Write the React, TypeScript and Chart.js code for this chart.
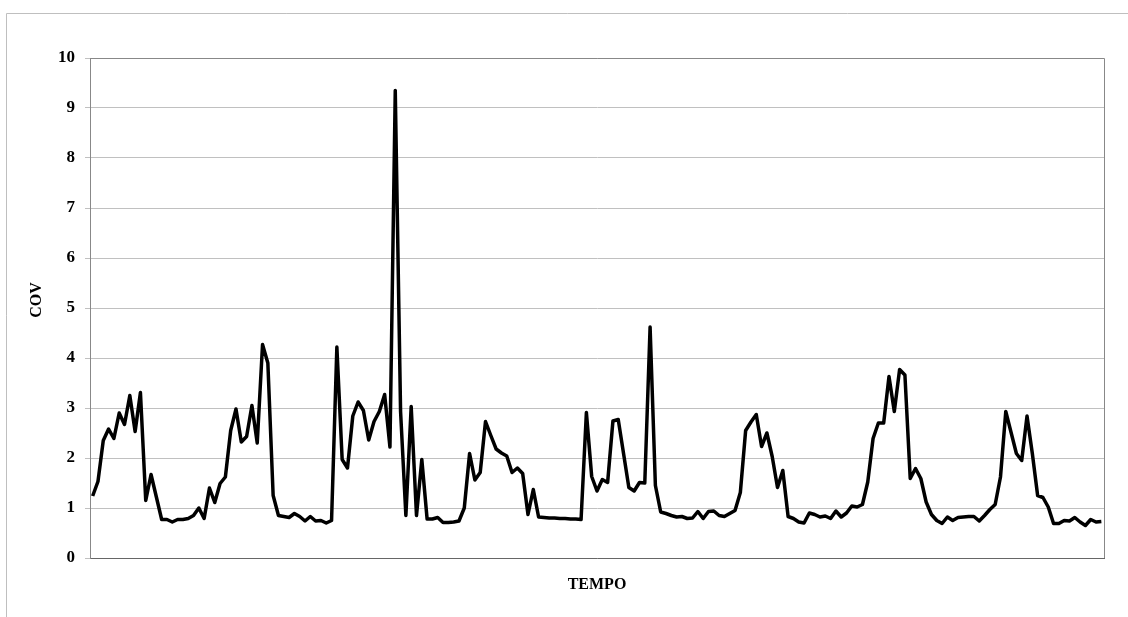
import React, { useEffect, useRef } from "react";
import { Chart, registerables } from "chart.js";

Chart.register(...registerables);

const covValues: number[] = [
  1.24, 1.53, 2.35, 2.58, 2.39, 2.9, 2.67, 3.25, 2.53, 3.31,
  1.15, 1.67, 1.22, 0.77, 0.77, 0.72, 0.77, 0.77, 0.79, 0.85,
  1.0, 0.79, 1.4, 1.11, 1.49, 1.62, 2.55, 2.98, 2.32, 2.43,
  3.05, 2.3, 4.27, 3.9, 1.25, 0.85, 0.83, 0.81, 0.89, 0.83,
  0.74, 0.83, 0.74, 0.75, 0.7, 0.75, 4.22, 1.97, 1.8, 2.84,
  3.12, 2.95, 2.36, 2.73, 2.93, 3.27, 2.22, 9.35, 2.93, 0.85,
  3.03, 0.85, 1.97, 0.78, 0.78, 0.81, 0.71, 0.71, 0.72, 0.74,
  1.0, 2.09, 1.56, 1.71, 2.73, 2.45, 2.18, 2.1, 2.04, 1.71,
  1.8, 1.69, 0.87, 1.37, 0.82, 0.81, 0.8, 0.8, 0.79, 0.79,
  0.78, 0.78, 0.77, 2.91, 1.63, 1.34, 1.57, 1.51, 2.74, 2.77,
  2.09, 1.41, 1.34, 1.51, 1.5, 4.62, 1.45, 0.92, 0.89, 0.85,
  0.82, 0.83, 0.79, 0.8, 0.93, 0.79, 0.93, 0.94, 0.85, 0.83,
  0.89, 0.95, 1.31, 2.55, 2.72, 2.87, 2.23, 2.5, 2.03, 1.41,
  1.75, 0.83, 0.79, 0.72, 0.7, 0.9, 0.87, 0.82, 0.84, 0.79,
  0.94, 0.82, 0.9, 1.04, 1.02, 1.07, 1.52, 2.39, 2.7, 2.7,
  3.63, 2.93, 3.77, 3.66, 1.59, 1.79, 1.59, 1.12, 0.87, 0.75,
  0.69, 0.82, 0.75, 0.81, 0.82, 0.83, 0.83, 0.74, 0.85, 0.97,
  1.07, 1.62, 2.93, 2.51, 2.09, 1.95, 2.84, 2.09, 1.25, 1.21,
  1.02, 0.69, 0.69, 0.75, 0.74, 0.81, 0.72, 0.65, 0.77, 0.72,
  0.73,
];

const tempoLabels: string[] = covValues.map((_, i) => String(i + 1));

const yAxisTitle = "COV";
const xAxisTitle = "TEMPO";
const yMin = 0;
const yMax = 10;
const yStep = 1;

const FONT = '"Liberation Serif", "Times New Roman", serif';

const decorPlugin = {
  id: "decor",
  beforeDraw(chart: any) {
    const ctx = chart.ctx;
    ctx.save();
    ctx.strokeStyle = "#bfbfbf";
    ctx.lineWidth = 1;
    ctx.beginPath();
    ctx.moveTo(6.5, 617);
    ctx.lineTo(6.5, 13.5);
    ctx.lineTo(1128, 13.5);
    ctx.stroke();
    ctx.restore();
  },
  afterDatasetsDraw(chart: any) {
    const { ctx, chartArea } = chart;
    const { left, right, top, bottom } = chartArea;
    ctx.save();
    ctx.lineWidth = 1;
    ctx.strokeStyle = "#888888";
    ctx.beginPath();
    ctx.moveTo(left, Math.round(top) + 0.5);
    ctx.lineTo(Math.round(right) + 0.5, Math.round(top) + 0.5);
    ctx.lineTo(Math.round(right) + 0.5, bottom);
    ctx.stroke();
    ctx.restore();
  },
  afterDraw(chart: any) {
    const { ctx, chartArea } = chart;
    ctx.save();
    ctx.fillStyle = "#000";
    ctx.font = `bold 16px ${FONT}`;
    ctx.textAlign = "center";
    ctx.textBaseline = "middle";
    ctx.fillText(xAxisTitle, (chartArea.left + chartArea.right) / 2, 585);
    ctx.translate(37, 300);
    ctx.rotate(-Math.PI / 2);
    ctx.fillText(yAxisTitle, 0, 0);
    ctx.restore();
  },
};

export default function App() {
  const canvasRef = useRef<HTMLCanvasElement | null>(null);

  useEffect(() => {
    document.body.style.margin = "0";
    const canvas = canvasRef.current;
    if (!canvas) return;
    const chart = new Chart(canvas, {
      type: "line",
      data: {
        labels: tempoLabels,
        datasets: [
          {
            label: yAxisTitle,
            data: covValues,
            borderColor: "#000000",
            backgroundColor: "#000000",
            borderWidth: 3.5,
            borderJoinStyle: "round",
            pointRadius: 0,
            pointHoverRadius: 0,
            tension: 0,
            fill: false,
          },
        ],
      },
      options: {
        animation: false,
        responsive: false,
        devicePixelRatio: 1,
        layout: { padding: { left: 0, right: 24, top: 58, bottom: 59 } },
        plugins: {
          legend: { display: false },
          tooltip: { enabled: false },
          title: { display: false },
        },
        scales: {
          x: {
            type: "category",
            offset: true,
            ticks: { display: false },
            grid: { display: false, drawTicks: false },
            border: { display: true, color: "#666666", width: 1 },
            afterFit: (scale: any) => {
              scale.height = 0;
            },
          },
          y: {
            min: yMin,
            max: yMax,
            ticks: {
              stepSize: yStep,
              color: "#000000",
              padding: 10,
              font: { family: FONT, size: 17, weight: "bold" },
            },
            grid: {
              color: "#c0c0c0",
              lineWidth: 1,
              tickLength: 5,
              drawTicks: true,
            },
            border: { display: true, color: "#888888", width: 1 },
            afterFit: (scale: any) => {
              scale.width = 90;
            },
          },
        },
      },
      plugins: [decorPlugin],
    } as any);
    return () => chart.destroy();
  }, []);

  return (
    <div style={{ width: 1128, height: 617, position: "relative", background: "#fff" }}>
      <canvas ref={canvasRef} width={1128} height={617} style={{ display: "block" }} />
    </div>
  );
}
